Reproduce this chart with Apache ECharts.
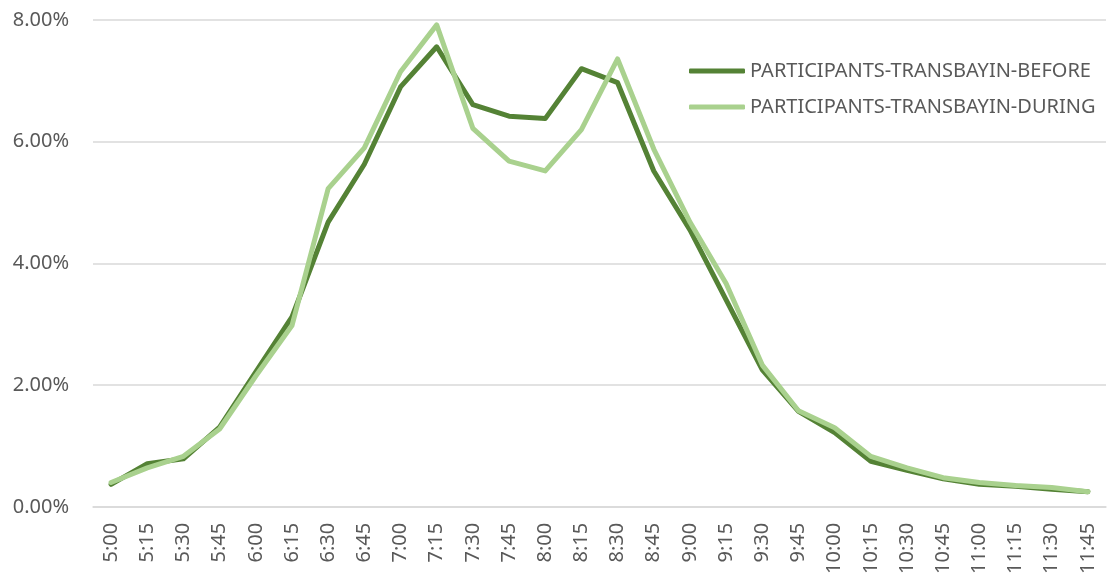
<!DOCTYPE html>
<html>
<head>
<meta charset="utf-8">
<script src="https://cdn.jsdelivr.net/npm/echarts@6/dist/echarts.min.js"></script>
<style>
  html, body { margin: 0; padding: 0; background: #fff; }
  #chart { width: 1107px; height: 577px; }
</style>
</head>
<body>
<div id="chart"></div>
<script>
// time slots, 15 min steps
const times = ['5:00','5:15','5:30','5:45','6:00','6:15','6:30','6:45','7:00','7:15','7:30','7:45','8:00','8:15','8:30','8:45','9:00','9:15','9:30','9:45','10:00','10:15','10:30','10:45','11:00','11:15','11:30','11:45'];

// share of participants (%)
const before = [0.37,0.71,0.79,1.31,2.22,3.12,4.68,5.63,6.90,7.56,6.61,6.42,6.38,7.20,6.97,5.52,4.55,3.40,2.25,1.57,1.22,0.75,0.60,0.46,0.37,0.34,0.29,0.25];
const during = [0.40,0.64,0.83,1.28,2.15,2.98,5.23,5.90,7.15,7.92,6.22,5.68,5.52,6.20,7.36,5.88,4.68,3.67,2.33,1.58,1.30,0.83,0.64,0.48,0.40,0.35,0.32,0.25];

const yTicks = [0, 2, 4, 6, 8];

const myChart = echarts.init(document.getElementById('chart'));

myChart.setOption({
  animation: false,
  grid: {
    left: 93,
    right: 1,
    top: 20,
    bottom: 66
  },
  color: ['#548235', '#A9D18E'],
  legend: {
    orient: 'vertical',
    left: 684,
    top: 54,
    icon: 'roundRect',
    itemWidth: 56,
    itemHeight: 5,
    itemGap: 12,
    data: ['PARTICIPANTS-TRANSBAYIN-BEFORE', 'PARTICIPANTS-TRANSBAYIN-DURING'],
    textStyle: {
      fontFamily: 'Noto Sans',
      fontSize: 20,
      color: '#595959',
      lineHeight: 24
    }
  },
  xAxis: {
    type: 'category',
    boundaryGap: true,
    data: times,
    axisLine: {
      lineStyle: { color: '#D9D9D9', width: 1.5 }
    },
    axisTick: { show: false },
    axisLabel: {
      rotate: 90,
      interval: 0,
      margin: 16,
      fontFamily: 'Noto Sans',
      fontSize: 20,
      color: '#595959'
    }
  },
  yAxis: {
    type: 'value',
    min: yTicks[0],
    max: yTicks[yTicks.length - 1],
    interval: 2,
    axisLine: { show: false },
    axisTick: { show: false },
    splitLine: {
      lineStyle: { color: '#D9D9D9', width: 1.5 }
    },
    axisLabel: {
      margin: 24,
      fontFamily: 'Noto Sans',
      fontSize: 20,
      color: '#595959',
      formatter: v => v.toFixed(2) + '%'
    }
  },
  series: [
    {
      name: 'PARTICIPANTS-TRANSBAYIN-BEFORE',
      type: 'line',
      symbol: 'none',
      data: before,
      lineStyle: { width: 5, cap: 'round', join: 'round' }
    },
    {
      name: 'PARTICIPANTS-TRANSBAYIN-DURING',
      type: 'line',
      symbol: 'none',
      data: during,
      lineStyle: { width: 5, cap: 'round', join: 'round' }
    }
  ]
});

window.addEventListener('resize', () => {
  myChart.resize();
});
</script>
</body>
</html>
